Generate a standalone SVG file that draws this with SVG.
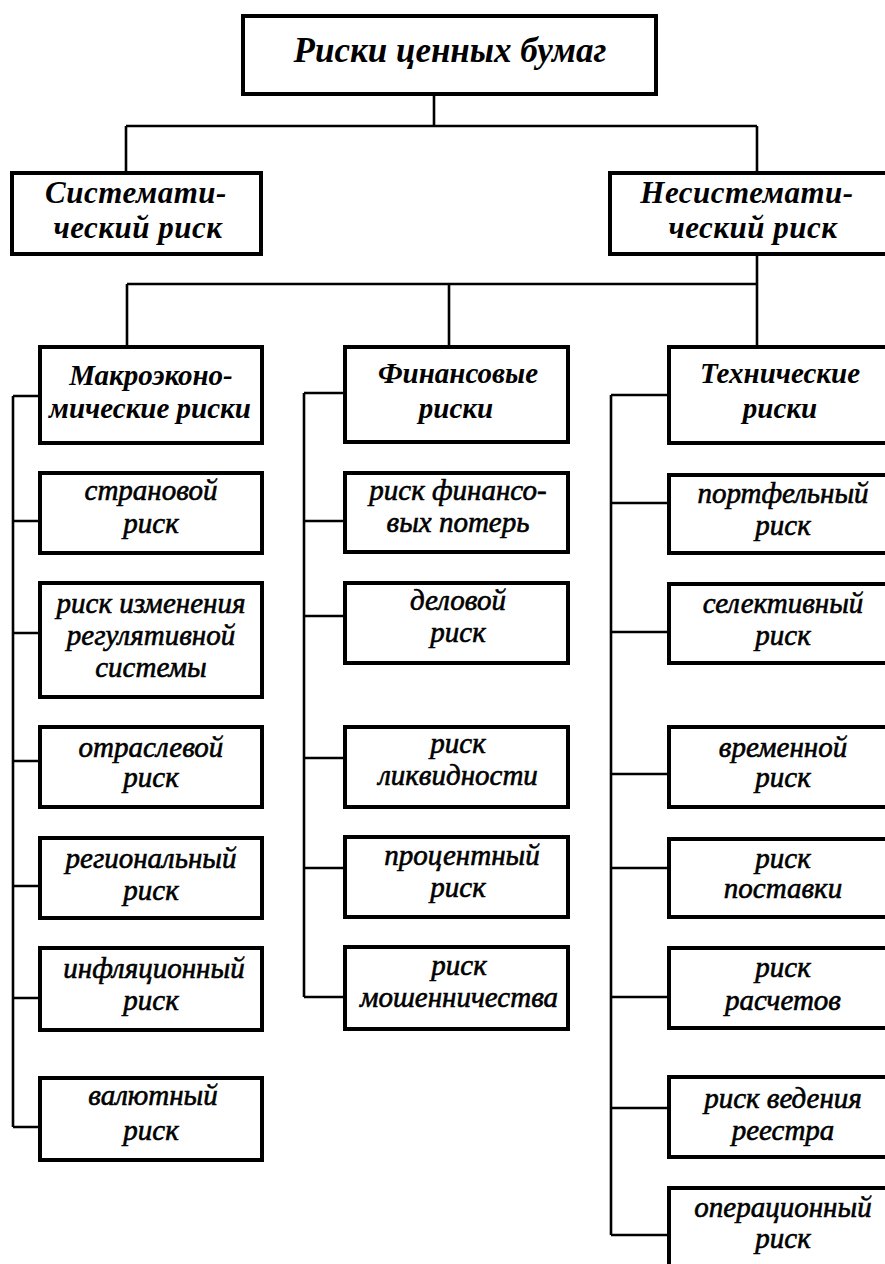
<svg xmlns="http://www.w3.org/2000/svg" width="885" height="1264" viewBox="0 0 885 1264">
<style>
.box{fill:#fff;stroke:#000;stroke-width:4}
.con{fill:none;stroke:#000;stroke-width:2.6}
.h{font-family:"Liberation Serif","DejaVu Serif",serif;font-weight:bold;font-style:italic;text-anchor:middle;fill:#000}
.c{font-family:"Liberation Serif","DejaVu Serif",serif;font-style:italic;font-size:29px;text-anchor:middle;fill:#000;stroke:#000;stroke-width:0.6}
</style>
<rect width="885" height="1264" fill="#fff"/>
<g id="connectors">
<path class="con" d="M434 94V126M126 126H757M126 126V173M757 126V173"/>
<path class="con" d="M757 254V347M127 284H757M127 284V347M449 284V347"/>
<path class="con" d="M13 396V1127M13 396H40M13 521H40M13 633H40M13 761H40M13 886H40M13 998H40M13 1127H40"/>
<path class="con" d="M304 393V997M304 393H345M304 521H345M304 616H345M304 758H345M304 868H345M304 997H345"/>
<path class="con" d="M611 395V1235M611 395H669M611 503H669M611 632H669M611 774H669M611 868H669M611 997H669M611 1108H669M611 1235H669"/>
</g>
<g id="root"><rect class="box" x="243" y="16" width="413" height="78"/><text class="h" x="450" y="62" font-size="35">Риски ценных бумаг</text></g>
<g id="systematic"><rect class="box" x="12" y="173" width="249" height="81"/><text class="h" x="136" y="203" font-size="31" letter-spacing="0.5">Системати-</text><text class="h" x="138" y="238" font-size="31" letter-spacing="0.5">ческий риск</text></g>
<g id="nonsystematic"><rect class="box" x="610" y="173" width="282" height="81"/><text class="h" x="747" y="203" font-size="31" letter-spacing="0.5">Несистемати-</text><text class="h" x="753" y="238" font-size="31" letter-spacing="0.5">ческий риск</text></g>
<g id="macro"><rect class="box" x="40" y="347" width="222" height="96"/><text class="h" x="151" y="385" font-size="29">Макроэконо-</text><text class="h" x="150" y="418" font-size="29">мические риски</text></g>
<g id="financial"><rect class="box" x="345" y="347" width="223" height="95"/><text class="h" x="458" y="383" font-size="29">Финансовые</text><text class="h" x="456" y="418" font-size="29">риски</text></g>
<g id="technical"><rect class="box" x="669" y="347" width="223" height="96"/><text class="h" x="780" y="383" font-size="29">Технические</text><text class="h" x="780" y="418" font-size="29">риски</text></g>
<g id="country"><rect class="box" x="40" y="473" width="222" height="80"/><text class="c" x="151" y="500">страновой</text><text class="c" x="151" y="533">риск</text></g>
<g id="regulatory"><rect class="box" x="40" y="583" width="222" height="114"/><text class="c" x="151" y="613">риск изменения</text><text class="c" x="151" y="645">регулятивной</text><text class="c" x="151" y="677">системы</text></g>
<g id="industry"><rect class="box" x="40" y="727" width="222" height="80"/><text class="c" x="151" y="757">отраслевой</text><text class="c" x="151" y="787">риск</text></g>
<g id="regional"><rect class="box" x="40" y="838" width="222" height="80"/><text class="c" x="151" y="868">региональный</text><text class="c" x="151" y="900">риск</text></g>
<g id="inflation"><rect class="box" x="40" y="948" width="222" height="82"/><text class="c" x="154" y="978">инфляционный</text><text class="c" x="151" y="1010">риск</text></g>
<g id="currency"><rect class="box" x="40" y="1078" width="222" height="82"/><text class="c" x="153" y="1105">валютный</text><text class="c" x="151" y="1140">риск</text></g>
<g id="finloss"><rect class="box" x="345" y="473" width="223" height="79"/><text class="c" x="458" y="500">риск финансо-</text><text class="c" x="458" y="532">вых потерь</text></g>
<g id="business"><rect class="box" x="345" y="583" width="223" height="80"/><text class="c" x="458" y="610">деловой</text><text class="c" x="458" y="642">риск</text></g>
<g id="liquidity"><rect class="box" x="345" y="727" width="223" height="80"/><text class="c" x="458" y="753">риск</text><text class="c" x="458" y="785">ликвидности</text></g>
<g id="interest"><rect class="box" x="345" y="837" width="223" height="80"/><text class="c" x="462" y="865">процентный</text><text class="c" x="458" y="897">риск</text></g>
<g id="fraud"><rect class="box" x="345" y="947" width="223" height="82"/><text class="c" x="459" y="975">риск</text><text class="c" x="459" y="1007">мошенничества</text></g>
<g id="portfolio"><rect class="box" x="669" y="475" width="223" height="78"/><text class="c" x="783" y="503">портфельный</text><text class="c" x="783" y="535">риск</text></g>
<g id="selective"><rect class="box" x="669" y="584" width="223" height="79"/><text class="c" x="783" y="613">селективный</text><text class="c" x="783" y="645">риск</text></g>
<g id="temporal"><rect class="box" x="669" y="727" width="223" height="80"/><text class="c" x="783" y="757">временной</text><text class="c" x="783" y="787">риск</text></g>
<g id="delivery"><rect class="box" x="669" y="839" width="223" height="78"/><text class="c" x="783" y="868">риск</text><text class="c" x="783" y="898">поставки</text></g>
<g id="settlement"><rect class="box" x="669" y="948" width="223" height="80"/><text class="c" x="783" y="977">риск</text><text class="c" x="783" y="1010">расчетов</text></g>
<g id="registry"><rect class="box" x="669" y="1077" width="223" height="80"/><text class="c" x="783" y="1108">риск ведения</text><text class="c" x="783" y="1140">реестра</text></g>
<g id="operational"><rect class="box" x="669" y="1188" width="223" height="90"/><text class="c" x="783" y="1217">операционный</text><text class="c" x="783" y="1248">риск</text></g>
</svg>
